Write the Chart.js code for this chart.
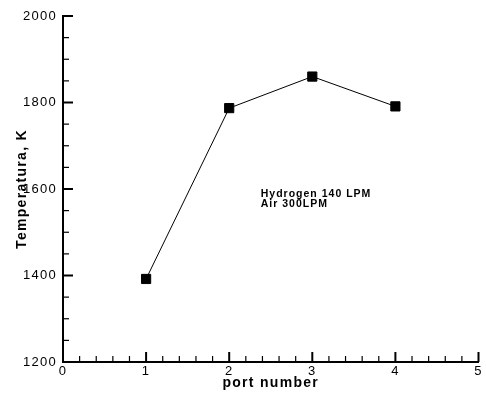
<!DOCTYPE html>
<html>
<head>
<meta charset="utf-8">
<script src="https://cdn.jsdelivr.net/npm/chart.js@4.4.1/dist/chart.umd.min.js"></script>
<style>
  html, body { margin: 0; padding: 0; background: #fff; }
  #wrap { width: 486px; height: 393px; }
</style>
</head>
<body>
<div id="wrap"><canvas id="tempChart" width="486" height="393"></canvas></div>
<script>
// Data
const ports = [1, 2, 3, 4];
const temperatures = [1392, 1787, 1860, 1791];
const noteLines = ['Hydrogen 140 LPM', 'Air 300LPM'];

// axis ranges
const xMin = 0, xMax = 5, xStep = 1, xMinorStep = 0.2;
const yMin = 1200, yMax = 2000, yStep = 200, yMinorStep = 50;

const fontFamily = '"Liberation Sans", Arial, Helvetica, sans-serif';

// letter spacing (the original text is a bit wide)
const spacingPlugin = {
    id: 'spacing',
    beforeUpdate(chart) { chart.ctx.letterSpacing = '1.3px'; },
    beforeDraw(chart) { chart.ctx.letterSpacing = '1.3px'; }
};

// inward tick marks, drawn from the scales
const inwardTicks = {
    id: 'inwardTicks',
    afterDraw(chart) {
        const ctx = chart.ctx;
        const xs = chart.scales.x, ys = chart.scales.y;
        const area = chart.chartArea;
        ctx.save();
        ctx.strokeStyle = '#000';
        ctx.lineCap = 'butt';
        // x axis
        const nx = Math.round((xMax - xMin) / xMinorStep);
        for (let i = 0; i <= nx; i++) {
            const v = xMin + i * xMinorStep;
            const major = Math.abs(v / xStep - Math.round(v / xStep)) < 1e-6;
            const px = xs.getPixelForValue(v);
            ctx.lineWidth = major ? 2 : 1.2;
            ctx.beginPath();
            ctx.moveTo(px, area.bottom);
            ctx.lineTo(px, area.bottom - (major ? 10 : 6));
            ctx.stroke();
        }
        // y axis
        const ny = Math.round((yMax - yMin) / yMinorStep);
        for (let i = 0; i <= ny; i++) {
            const v = yMin + i * yMinorStep;
            const major = (v - yMin) % yStep === 0;
            const py = ys.getPixelForValue(v);
            ctx.lineWidth = major ? 2 : 1.2;
            ctx.beginPath();
            ctx.moveTo(area.left, py);
            ctx.lineTo(area.left + (major ? 10 : 6), py);
            ctx.stroke();
        }
        ctx.restore();
    }
};

// text note inside the plot
const notePlugin = {
    id: 'note',
    afterDatasetsDraw(chart) {
        const ctx = chart.ctx;
        const xs = chart.scales.x, ys = chart.scales.y;
        ctx.save();
        ctx.letterSpacing = '1px';
        ctx.font = 'bold 10.5px ' + fontFamily;
        ctx.fillStyle = '#000';
        ctx.textBaseline = 'middle';
        ctx.textAlign = 'left';
        const x0 = xs.getPixelForValue(2.38);
        const y0 = ys.getPixelForValue(1589);
        noteLines.forEach((line, i) => ctx.fillText(line, x0, y0 + i * 10));
        ctx.restore();
    }
};

window.onload = () => {
    const canvas = document.getElementById('tempChart');

    new Chart(canvas, {
        type: 'line',
        data: {
            datasets: [{
                data: ports.map((p, i) => ({ x: p, y: temperatures[i] })),
                borderColor: '#000',
                borderWidth: 1,
                backgroundColor: '#000',
                pointStyle: 'rect',
                pointRadius: 6.5,
                pointBorderWidth: 1,
                pointBackgroundColor: '#000',
                pointBorderColor: '#000',
                tension: 0,
                fill: false
            }]
        },
        options: {
            responsive: false,
            animation: false,
            events: [],
            layout: { padding: { top: 16, right: 4, left: 0, bottom: 0 } },
            plugins: {
                legend: { display: false },
                tooltip: { enabled: false }
            },
            scales: {
                x: {
                    type: 'linear',
                    min: xMin,
                    max: xMax,
                    afterFit(scale) { scale.height = 31; },
                    grid: { display: false, drawTicks: false },
                    border: { display: true, color: '#000', width: 2 },
                    ticks: {
                        stepSize: xStep,
                        color: '#000',
                        padding: 2,
                        maxRotation: 0,
                        font: { family: fontFamily, size: 13 },
                        callback: v => String(v)
                    },
                    title: {
                        display: true,
                        text: 'port number',
                        color: '#000',
                        padding: { top: 0, bottom: 1 },
                        font: { family: fontFamily, size: 14, weight: 'bold' }
                    }
                },
                y: {
                    type: 'linear',
                    min: yMin,
                    max: yMax,
                    afterFit(scale) { scale.width = 63; },
                    grid: { display: false, drawTicks: false },
                    border: { display: true, color: '#000', width: 2 },
                    ticks: {
                        stepSize: yStep,
                        color: '#000',
                        padding: 6,
                        font: { family: fontFamily, size: 13 },
                        callback: v => String(v)
                    },
                    title: {
                        display: true,
                        text: 'Temperatura, K',
                        color: '#000',
                        padding: { top: 14, bottom: 0 },
                        font: { family: fontFamily, size: 14, weight: 'bold' }
                    }
                }
            }
        },
        plugins: [spacingPlugin, inwardTicks, notePlugin]
    });
};
</script>
</body>
</html>
